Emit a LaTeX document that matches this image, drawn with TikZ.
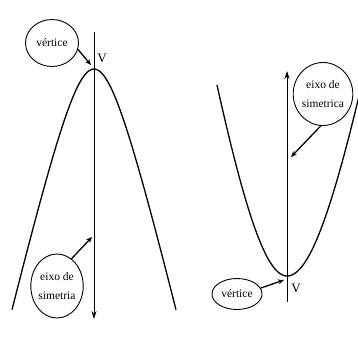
\documentclass[tikz,border=0pt]{standalone}
\usepackage{fontspec}
\setmainfont{Liberation Serif}
\usetikzlibrary{shapes.geometric,arrows.meta}

\begin{document}
\begin{tikzpicture}[x=1pt, y=-1pt,
    bubbleStyle/.style={draw, ellipse, inner sep=0pt, align=center, line width=0.9pt, font=\fontsize{11.5}{19}\selectfont},
    curveStyle/.style={line width=1.3pt},
    axisStyle/.style={line width=0.6pt, -{Stealth[length=8pt, width=5pt]}},
    pointerStyle/.style={line width=1.3pt, -{Stealth[length=6pt, width=5pt]}},
    vLabelStyle/.style={font=\fontsize{13}{13}\selectfont}]
    \useasboundingbox (0,0) rectangle (358,349);

    % Downward parabola (left)
    \coordinate (axLtop) at (94, 32);
    \coordinate (axLbot) at (94, 319);
    \coordinate (vtxL) at (91, 65);
    \coordinate (symL) at (92, 237);
    \node[bubbleStyle, minimum width=53pt, minimum height=47pt] (vertL) at (52, 43) {vértice};
    \node[bubbleStyle, minimum width=48pt, minimum height=64pt] (eixoL) at (57, 286) {eixo de\\simetria};
    \node[vLabelStyle] (labL) at (102, 58) {V};

    \draw[curveStyle] plot[domain=-82:82, samples=60] ({94+\x}, {69+126*(sqrt(1+(\x/30)^2)-1)});
    \draw[axisStyle] (axLtop) -- (axLbot);
    \draw[pointerStyle] (vertL.-14) -- (vtxL);
    \draw[pointerStyle] (eixoL.62) -- (symL);

    % Upward parabola (right)
    \coordinate (axRbot) at (287, 302);
    \coordinate (axRtop) at (287, 71);
    \coordinate (vtxR) at (284, 280);
    \coordinate (symR) at (291, 157);
    \node[bubbleStyle, minimum width=50pt, minimum height=31pt] (vertR) at (237, 294) {vértice};
    \node[bubbleStyle, minimum width=49pt, minimum height=63pt] (eixoR) at (323, 94) {eixo de\\simetrica};
    \node[vLabelStyle] (labR) at (296, 288) {V};

    \draw[curveStyle] plot[domain=-70:0, samples=40] ({287+\x}, {276-356*(sqrt(1+(\x/60)^2)-1)})
        -- plot[domain=0:74, samples=40] ({287+\x}, {276-356*(sqrt(1+(\x/64)^2)-1)});
    \draw[axisStyle] (axRbot) -- (axRtop);
    \draw[pointerStyle] (vertR.14) -- (vtxR);
    \draw[pointerStyle] (eixoR.-94) -- (symR);
\end{tikzpicture}
\end{document}
